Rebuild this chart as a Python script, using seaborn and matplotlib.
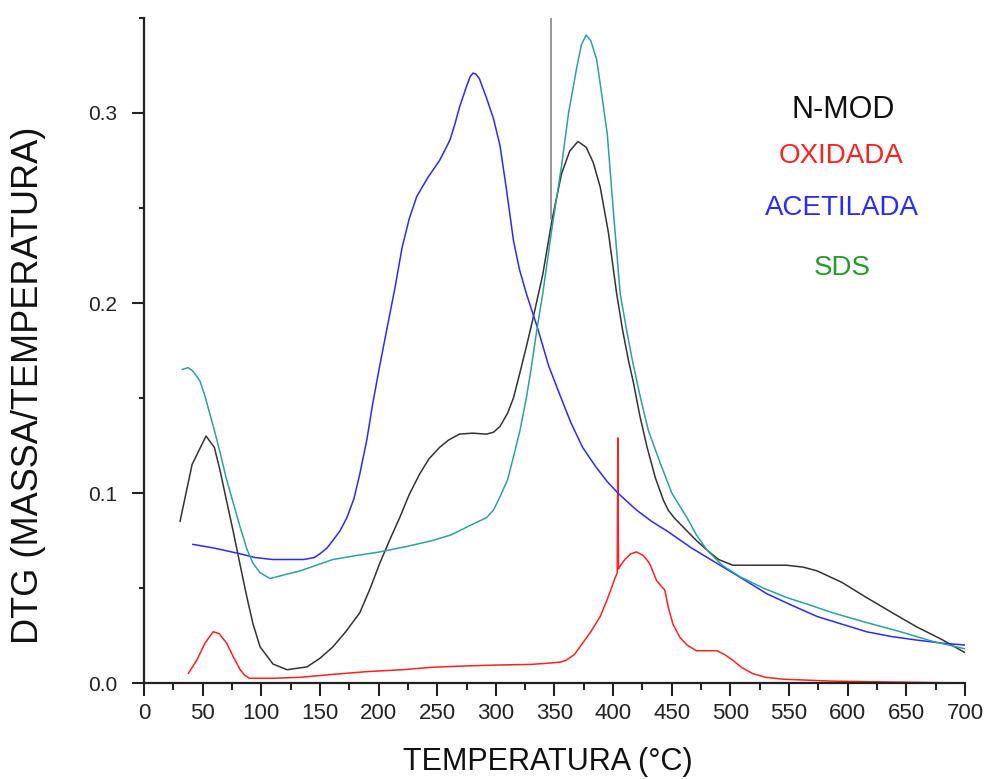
import numpy as np
import pandas as pd
import matplotlib
matplotlib.use('Agg')
import matplotlib.pyplot as plt
import seaborn as sns
from matplotlib.ticker import MultipleLocator, FormatStrFormatter

# curves (temperature in °C, DTG)
nmod_t = [30.7, 41, 52.9, 60, 64.8, 70, 76, 82, 87.8, 93, 99, 110, 122, 139, 150, 161,
          172, 184, 193, 201, 210, 218, 226, 235, 243, 252, 260, 269, 280, 292, 298,
          303.5, 310, 315, 320, 326, 331, 340, 348, 356, 363, 370, 377, 383, 389, 396,
          403, 408, 413, 417, 423, 429, 436, 443, 447, 452, 463, 471, 480, 490, 502, 525,
          548, 562, 574, 595, 616, 638, 659, 680, 700]
nmod_y = [0.085, 0.115, 0.130, 0.124, 0.112, 0.097, 0.080, 0.062, 0.045, 0.031, 0.019,
          0.010, 0.007, 0.0085, 0.013, 0.019, 0.027, 0.037, 0.050, 0.063, 0.076, 0.087,
          0.099, 0.110, 0.118, 0.124, 0.128, 0.131, 0.1315, 0.131, 0.132, 0.135, 0.142,
          0.150, 0.162, 0.177, 0.190, 0.215, 0.244, 0.268, 0.280, 0.285, 0.282, 0.274,
          0.261, 0.237, 0.205, 0.186, 0.170, 0.159, 0.140, 0.124, 0.108, 0.096, 0.091,
          0.087, 0.080, 0.075, 0.070, 0.065, 0.062, 0.062, 0.062, 0.061, 0.059, 0.053,
          0.045, 0.037, 0.0295, 0.023, 0.016]

sds_t = [32.5, 37.7, 42, 47.7, 52, 56, 60, 65, 70, 76, 82, 88, 93, 99, 107.5, 120, 133,
         147, 161, 180, 201, 225, 246, 262, 275, 285, 292, 298, 303.5, 310, 315, 320.6,
         326, 330, 335, 340, 348, 356, 362, 369, 373, 377, 381, 386, 390, 395, 400, 406,
         412, 417, 423, 430, 440, 450, 463, 471, 480, 493, 508, 528, 548, 568, 587, 615,
         645, 672, 700]
sds_y = [0.165, 0.166, 0.164, 0.159, 0.151, 0.142, 0.133, 0.121, 0.108, 0.095, 0.082,
         0.070, 0.063, 0.058, 0.055, 0.057, 0.059, 0.062, 0.065, 0.067, 0.069, 0.072,
         0.075, 0.078, 0.082, 0.085, 0.087, 0.091, 0.098, 0.107, 0.119, 0.133, 0.150,
         0.165, 0.186, 0.205, 0.240, 0.272, 0.300, 0.324, 0.336, 0.341, 0.338, 0.328,
         0.311, 0.289, 0.250, 0.205, 0.184, 0.168, 0.151, 0.133, 0.116, 0.100, 0.087,
         0.078, 0.070, 0.062, 0.056, 0.050, 0.045, 0.041, 0.037, 0.032, 0.027, 0.022,
         0.018]

acet_t = [41.5, 60, 82, 95, 110, 125, 136, 145, 150, 156, 161, 167, 173, 179, 184, 190,
          195, 201, 207, 214, 220, 226, 232.5, 242, 252, 257, 261, 265, 269, 275, 278,
          280.5, 283, 286, 292, 298, 303.5, 309, 315, 320, 326, 336, 345, 355, 364, 374,
          385, 395, 404, 420, 433, 446, 467, 488.5, 510, 531, 552, 574, 595, 616, 637,
          659, 680, 700]
acet_y = [0.073, 0.071, 0.068, 0.066, 0.065, 0.065, 0.065, 0.066, 0.068, 0.071, 0.075,
          0.080, 0.087, 0.097, 0.110, 0.128, 0.147, 0.167, 0.186, 0.208, 0.229, 0.244,
          0.256, 0.266, 0.275, 0.281, 0.286, 0.294, 0.303, 0.314, 0.319, 0.321, 0.3205,
          0.318, 0.308, 0.297, 0.283, 0.260, 0.233, 0.218, 0.205, 0.186, 0.167, 0.151,
          0.137, 0.124, 0.114, 0.106, 0.100, 0.091, 0.085, 0.080, 0.071, 0.063, 0.055,
          0.047, 0.041, 0.035, 0.031, 0.027, 0.0245, 0.0226, 0.021, 0.020]

oxid_t = [37.7, 45, 52, 59, 64, 70.5, 76, 82, 86, 90, 110, 133, 160, 190, 220, 246, 275,
          303.5, 330, 346, 355, 360, 367, 374, 381, 389, 395, 401.5, 403.5, 404, 404.6,
          406.5, 410, 415, 420, 426, 431, 435, 437, 441, 444, 447, 451, 457, 463, 471,
          480, 488.5, 495, 502, 510, 519, 530, 545, 587, 640, 700]
oxid_y = [0.005, 0.012, 0.021, 0.027, 0.026, 0.021, 0.014, 0.007, 0.004, 0.0025, 0.0025,
          0.003, 0.0045, 0.006, 0.007, 0.0083, 0.009, 0.0095, 0.0098, 0.0105, 0.011,
          0.012, 0.015, 0.021, 0.027, 0.035, 0.044, 0.055, 0.058, 0.129, 0.060, 0.062,
          0.065, 0.068, 0.069, 0.067, 0.063, 0.057, 0.054, 0.051, 0.049, 0.040, 0.031,
          0.024, 0.020, 0.017, 0.017, 0.017, 0.015, 0.012, 0.008, 0.005, 0.003, 0.002,
          0.001, 0.0005, 0.0]

# artefact of the instrument: vertical gray line near 347 °C
artefact_t = [347, 347]
artefact_y = [0.244, 0.35]

series = [
    ('N-MOD', nmod_t, nmod_y, '#333333'),
    ('OXIDADA', oxid_t, oxid_y, '#ff2020'),
    ('ACETILADA', acet_t, acet_y, '#2a2aff'),
    ('SDS', sds_t, sds_y, '#2fa0a0'),
]

sns.set_style('ticks')
plt.rcParams['font.family'] = ['Liberation Sans', 'DejaVu Sans']

fig = plt.figure(figsize=(9.89, 7.79), dpi=100)
ax = fig.add_axes([0.1456, 0.1232, 0.8301, 0.8537])

for name, t, y, color in series:
    df = pd.DataFrame({'T': t, 'DTG': y})
    sns.lineplot(data=df, x='T', y='DTG', ax=ax, color=color, linewidth=1.1,
                 sort=False, estimator=None)
sns.lineplot(x=artefact_t, y=artefact_y, ax=ax, color='#888888', linewidth=1.2,
             sort=False, estimator=None)

ax.set_xlim(0, 700)
ax.set_ylim(0, 0.35)
ax.xaxis.set_major_locator(MultipleLocator(50))
ax.xaxis.set_minor_locator(MultipleLocator(25))
ax.yaxis.set_major_locator(MultipleLocator(0.1))
ax.yaxis.set_minor_locator(MultipleLocator(0.05))
ax.yaxis.set_major_formatter(FormatStrFormatter('%.1f'))
ax.tick_params(axis='x', which='major', length=9.5, width=1.5, color='#222222',
               labelsize=16, labelcolor='#222222', pad=5)
ax.tick_params(axis='x', which='minor', length=5, width=1.5, color='#222222')
ax.tick_params(axis='y', which='major', length=9, width=1.5, color='#222222',
               labelsize=15, labelcolor='#222222', pad=10)
ax.tick_params(axis='y', which='minor', length=3.5, width=1.5, color='#222222')
sns.despine(ax=ax)
for s in ['left', 'bottom']:
    ax.spines[s].set_linewidth(1.6)
    ax.spines[s].set_color('#222222')

ax.set_xlabel('TEMPERATURA (°C)', fontsize=22, color='#111111')
ax.set_ylabel('DTG (MASSA/TEMPERATURA)', fontsize=26, color='#111111')
ax.xaxis.label.set_va('center')
ax.yaxis.label.set_va('center')
ax.xaxis.set_label_coords(0.492, -0.119)
ax.yaxis.set_label_coords(-0.1407, 0.448)

# label block in the upper right corner
ax.text(596, 0.3015, 'N-MOD', color='#111111', fontsize=22, ha='center', va='center')
ax.text(594, 0.2775, 'OXIDADA', color='#ff2020', fontsize=20, ha='center', va='center')
ax.text(595, 0.250, 'ACETILADA', color='#2a2aff', fontsize=20, ha='center', va='center')
ax.text(595, 0.2185, 'SDS', color='#2a9a2a', fontsize=20, ha='center', va='center')

fig.savefig('out.png', dpi=100)
